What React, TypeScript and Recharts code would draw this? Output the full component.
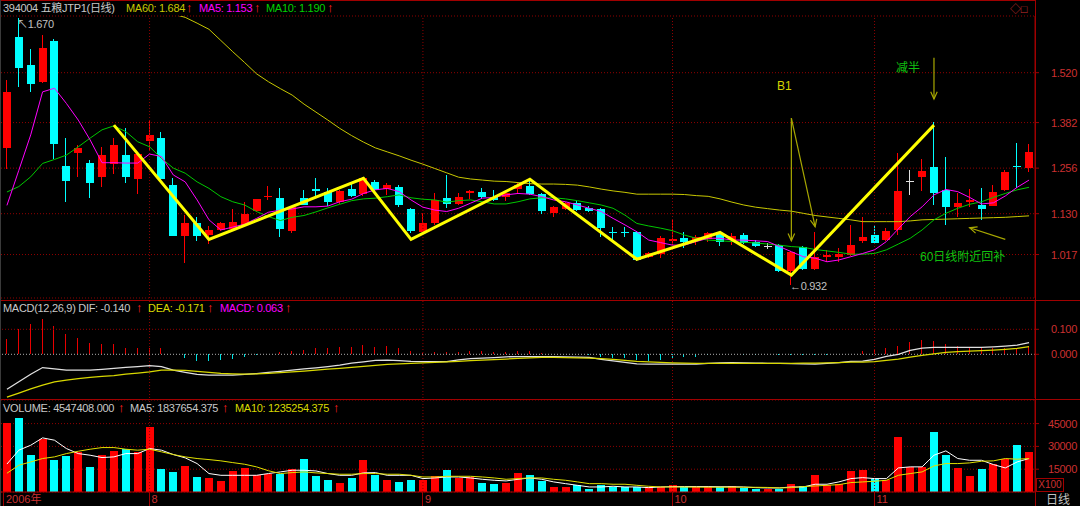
import React from "react";
import { Bar, CartesianGrid, ComposedChart, Line, ReferenceLine, XAxis, YAxis } from "recharts";

// daily candles, one row per trading day (Jul–Nov 2006)
const OPEN = [
  1.313, 1.62, 1.541, 1.493, 1.609, 1.262, 1.297, 1.269, 1.232, 1.267,
  1.292, 1.225, 1.331, 1.34, 1.209, 1.068, 1.103, 1.071, 1.085, 1.088,
  1.099, 1.137, 1.175, 1.173, 1.082, 1.174, 1.197, 1.191, 1.163, 1.198,
  1.184, 1.218, 1.198, 1.205, 1.142, 1.08, 1.103, 1.173, 1.156, 1.186,
  1.189, 1.175, 1.175, 1.198, 1.207, 1.184, 1.133, 1.143, 1.16, 1.147,
  1.142, 1.08, 1.08, 1.08, 1.011, 1.018, 1.055, 1.062, 1.057, 1.059,
  1.076, 1.057, 1.071, 1.053, 1.041, 1.043, 0.971, 1.039, 0.977, 1.011,
  1.011, 1.016, 1.054, 1.071, 1.057, 1.085, 1.221, 1.232, 1.258, 1.196,
  1.149, 1.163, 1.154, 1.152, 1.196, 1.262, 1.257,
];
const HIGH = [
  1.5, 1.67, 1.585, 1.624, 1.612, 1.34, 1.32, 1.278, 1.315, 1.339,
  1.368, 1.3, 1.389, 1.355, 1.228, 1.126, 1.122, 1.096, 1.108, 1.142,
  1.163, 1.172, 1.207, 1.202, 1.152, 1.196, 1.228, 1.2, 1.195, 1.211,
  1.232, 1.222, 1.214, 1.209, 1.145, 1.131, 1.188, 1.237, 1.186, 1.195,
  1.2, 1.196, 1.19, 1.214, 1.223, 1.187, 1.151, 1.163, 1.168, 1.15,
  1.146, 1.094, 1.092, 1.082, 1.023, 1.068, 1.114, 1.08, 1.071, 1.08,
  1.08, 1.076, 1.076, 1.056, 1.048, 1.045, 1.027, 1.041, 1.08, 1.03,
  1.034, 1.099, 1.122, 1.099, 1.09, 1.297, 1.251, 1.28, 1.384, 1.288,
  1.188, 1.197, 1.2, 1.209, 1.25, 1.325, 1.322,
];
const LOW = [
  1.254, 1.481, 1.467, 1.491, 1.281, 1.163, 1.232, 1.173, 1.205, 1.24,
  1.216, 1.184, 1.304, 1.222, 1.067, 0.994, 1.055, 1.045, 1.082, 1.086,
  1.097, 1.135, 1.168, 1.066, 1.077, 1.154, 1.177, 1.151, 1.157, 1.177,
  1.178, 1.194, 1.182, 1.149, 1.076, 1.078, 1.1, 1.145, 1.154, 1.17,
  1.172, 1.165, 1.166, 1.188, 1.182, 1.128, 1.122, 1.14, 1.138, 1.136,
  1.066, 1.057, 1.066, 1.0, 1.007, 1.007, 1.043, 1.034, 1.043, 1.052,
  1.04, 1.043, 1.045, 1.038, 1.031, 0.969, 0.932, 0.975, 0.974, 0.997,
  0.997, 1.013, 1.05, 1.046, 1.055, 1.071, 1.182, 1.193, 1.154, 1.099,
  1.122, 1.149, 1.113, 1.15, 1.193, 1.2, 1.246,
];
const CLOSE = [
  1.467, 1.532, 1.489, 1.587, 1.322, 1.22, 1.311, 1.216, 1.292, 1.32,
  1.231, 1.295, 1.348, 1.226, 1.069, 1.103, 1.068, 1.085, 1.103, 1.106,
  1.128, 1.17, 1.178, 1.087, 1.149, 1.155, 1.192, 1.163, 1.193, 1.18,
  1.228, 1.196, 1.209, 1.154, 1.082, 1.105, 1.168, 1.156, 1.177, 1.193,
  1.175, 1.168, 1.188, 1.209, 1.184, 1.137, 1.149, 1.159, 1.14, 1.138,
  1.091, 1.076, 1.077, 1.002, 1.02, 1.062, 1.059, 1.051, 1.066, 1.076,
  1.051, 1.068, 1.05, 1.041, 1.041, 0.971, 1.025, 0.977, 1.009, 1.016,
  1.018, 1.043, 1.065, 1.048, 1.083, 1.193, 1.221, 1.248, 1.186, 1.149,
  1.159, 1.168, 1.143, 1.191, 1.244, 1.258, 1.301,
];
const MA5 = [
  1.153, 1.25, 1.348, 1.467, 1.477, 1.435, 1.389, 1.334, 1.271, 1.271,
  1.27, 1.27, 1.295, 1.288, 1.237, 1.218, 1.168, 1.113, 1.085, 1.093,
  1.101, 1.117, 1.134, 1.14, 1.143, 1.149, 1.149, 1.151, 1.163, 1.17,
  1.186, 1.196, 1.2, 1.191, 1.168, 1.148, 1.14, 1.136, 1.145, 1.159,
  1.173, 1.175, 1.182, 1.186, 1.184, 1.177, 1.168, 1.163, 1.154, 1.145,
  1.136, 1.117, 1.099, 1.08, 1.057, 1.05, 1.043, 1.043, 1.053, 1.062,
  1.062, 1.057, 1.057, 1.055, 1.053, 1.039, 1.025, 1.011, 1.007, 0.997,
  1.002, 1.011, 1.02, 1.03, 1.053, 1.088, 1.122, 1.149, 1.182, 1.197,
  1.191, 1.175, 1.157, 1.16, 1.179, 1.203, 1.223,
];
const MA10 = [
  1.19, 1.205, 1.232, 1.269, 1.28, 1.292, 1.315, 1.339, 1.362, 1.373,
  1.357, 1.329, 1.315, 1.283, 1.256, 1.242, 1.218, 1.2, 1.177, 1.163,
  1.154, 1.136, 1.122, 1.111, 1.12, 1.125, 1.135, 1.146, 1.156, 1.166,
  1.171, 1.173, 1.177, 1.182, 1.174, 1.17, 1.168, 1.162, 1.166, 1.168,
  1.163, 1.157, 1.157, 1.163, 1.171, 1.174, 1.174, 1.171, 1.166, 1.16,
  1.154, 1.145, 1.126, 1.103, 1.096, 1.09, 1.083, 1.071, 1.062, 1.057,
  1.055, 1.053, 1.051, 1.049, 1.046, 1.043, 1.039, 1.037, 1.031, 1.027,
  1.023, 1.018, 1.018, 1.02, 1.03, 1.046, 1.062, 1.085, 1.113, 1.131,
  1.145, 1.156, 1.163, 1.175, 1.186, 1.196, 1.203,
];
const MA60 = [
  1.684, 1.686, 1.688, 1.69, 1.691, 1.691, 1.69, 1.689, 1.688, 1.687,
  1.686, 1.685, 1.684, 1.683, 1.682, 1.673, 1.657, 1.64, 1.609, 1.578,
  1.548, 1.517, 1.495, 1.476, 1.458, 1.433, 1.411, 1.389, 1.366, 1.346,
  1.328, 1.312, 1.301, 1.29, 1.278, 1.267, 1.255, 1.243, 1.231, 1.226,
  1.223, 1.22, 1.219, 1.216, 1.213, 1.212, 1.212, 1.211, 1.209, 1.204,
  1.198, 1.193, 1.189, 1.184, 1.184, 1.184, 1.184, 1.183, 1.18, 1.178,
  1.171, 1.162, 1.154, 1.148, 1.144, 1.14, 1.137, 1.131, 1.125, 1.121,
  1.117, 1.113, 1.108, 1.108, 1.108, 1.108, 1.11, 1.113, 1.114, 1.115,
  1.116, 1.117, 1.118, 1.119, 1.12, 1.122, 1.124,
];
// volume in lots of 100
const VOLUME = [
  45474, 49010, 24190, 35170, 20870, 23550, 26420, 16530, 24190, 26800,
  28590, 26420, 42440, 14930, 13210, 17170, 9890, 9250, 7080, 13660,
  15830, 10980, 11680, 11680, 14930, 22020, 10590, 7720, 5940, 9450,
  21320, 10980, 7720, 6640, 7720, 7720, 10590, 14300, 9250, 9890,
  6190, 5100, 5940, 12760, 10980, 7080, 3320, 3320, 4400, 1790,
  4400, 3320, 3320, 3320, 3320, 3320, 4850, 3320, 3320, 3320,
  3320, 3960, 2680, 1790, 2230, 2230, 5490, 3960, 10980, 4850,
  5100, 13660, 14300, 8810, 7720, 36310, 16530, 16530, 39570, 24190,
  15830, 10590, 14930, 18700, 21570, 30760, 26420,
];
const VOL_MA5 = [
  18377, 27510, 30760, 35610, 34080, 28590, 25270, 24190, 22660, 23100,
  25270, 25270, 28590, 27510, 24630, 22460, 18700, 12130, 10980, 10980,
  10980, 10980, 12130, 13210, 14300, 14300, 13850, 12130, 10980, 10980,
  12570, 12760, 10980, 10980, 10980, 8810, 9250, 9890, 9890, 9250,
  8360, 7720, 7280, 8360, 9250, 8360, 6640, 5490, 4400, 3320,
  3320, 3770, 3320, 3320, 2870, 3320, 3500, 3560, 3560, 3560,
  3450, 3500, 3300, 2870, 2680, 2680, 3320, 3320, 5100, 5100,
  6640, 8810, 9450, 8810, 8810, 15830, 16530, 16530, 24190, 27060,
  22020, 20870, 20870, 18060, 15830, 19780, 22020,
];
const VOL_MA10 = [
  12353, 17610, 19780, 22020, 23100, 25270, 26800, 28140, 29230, 29230,
  28140, 27510, 28140, 26420, 24630, 23100, 22020, 21320, 20490, 19340,
  18250, 16530, 14000, 12130, 12760, 13210, 12570, 12130, 11680, 11680,
  12130, 12130, 11680, 11680, 10980, 9890, 9890, 10340, 10340, 10340,
  9890, 9250, 8360, 8810, 9250, 9250, 8360, 7720, 6640, 5490,
  5490, 5100, 5100, 4400, 3770, 3320, 3320, 3250, 3200, 3150,
  3150, 3150, 3150, 3100, 3000, 2680, 2870, 3540, 3960, 4400,
  4850, 6190, 6640, 7080, 7720, 10980, 12130, 13210, 17170, 18700,
  18700, 19150, 20230, 20490, 22020, 21570, 22020,
];
const DIF = [
  -0.14, -0.11, -0.08, -0.053, -0.058, -0.063, -0.063, -0.063, -0.06, -0.056,
  -0.052, -0.049, -0.045, -0.049, -0.063, -0.072, -0.08, -0.083, -0.083, -0.083,
  -0.08, -0.077, -0.072, -0.068, -0.063, -0.058, -0.054, -0.049, -0.043, -0.035,
  -0.03, -0.024, -0.023, -0.025, -0.028, -0.029, -0.029, -0.029, -0.022, -0.017,
  -0.015, -0.013, -0.01, -0.009, -0.009, -0.009, -0.009, -0.01, -0.011, -0.012,
  -0.02, -0.026, -0.032, -0.038, -0.039, -0.039, -0.039, -0.039, -0.039, -0.036,
  -0.034, -0.033, -0.034, -0.035, -0.036, -0.036, -0.037, -0.038, -0.039, -0.036,
  -0.033, -0.028, -0.027, -0.02, -0.008, 0.0, 0.016, 0.025, 0.028, 0.028,
  0.028, 0.028, 0.028, 0.03, 0.033, 0.037, 0.047,
];
const DEA = [
  -0.171, -0.155, -0.138, -0.123, -0.11, -0.103, -0.097, -0.092, -0.088, -0.085,
  -0.079, -0.075, -0.07, -0.063, -0.063, -0.064, -0.068, -0.072, -0.076, -0.078,
  -0.079, -0.078, -0.076, -0.073, -0.07, -0.067, -0.063, -0.059, -0.056, -0.052,
  -0.048, -0.044, -0.04, -0.038, -0.036, -0.034, -0.032, -0.03, -0.028, -0.025,
  -0.023, -0.021, -0.019, -0.016, -0.014, -0.012, -0.012, -0.013, -0.014, -0.015,
  -0.017, -0.02, -0.024, -0.028, -0.03, -0.032, -0.034, -0.035, -0.036, -0.036,
  -0.036, -0.036, -0.036, -0.036, -0.036, -0.036, -0.036, -0.035, -0.035, -0.034,
  -0.033, -0.031, -0.031, -0.029, -0.024, -0.019, -0.011, -0.004, 0.002, 0.008,
  0.011, 0.013, 0.015, 0.017, 0.02, 0.024, 0.031,
];
const MACD = [
  0.063, 0.1, 0.12, 0.141, 0.114, 0.08, 0.067, 0.044, 0.04, 0.04,
  0.027, 0.027, 0.024, 0.024, 0.001, -0.016, -0.025, -0.025, -0.023, -0.019,
  -0.009, -0.002, 0.001, 0.008, 0.013, 0.017, 0.024, 0.027, 0.031, 0.031,
  0.037, 0.031, 0.033, 0.024, 0.013, 0.004, 0.008, 0.008, 0.011, 0.013,
  0.013, 0.011, 0.011, 0.013, 0.013, 0.006, 0.003, 0.002, 0.001, -0.003,
  -0.009, -0.013, -0.016, -0.022, -0.026, -0.022, -0.016, -0.012, -0.009, -0.002,
  0.002, 0.001, -0.002, -0.001, 0.001, -0.003, -0.002, -0.003, -0.003, -0.003,
  0.001, 0.002, 0.013, 0.017, 0.024, 0.035, 0.048, 0.057, 0.053, 0.04,
  0.035, 0.031, 0.024, 0.024, 0.024, 0.027, 0.031,
];

// hand-drawn wave line: [day index, price]
const ZIGZAG = [
  [9, 1.375], [17, 1.059], [30, 1.228], [34, 1.059], [44, 1.225],
  [53, 1.004], [60, 1.078], [66, 0.96], [78, 1.375],
];
// annotation arrows: [fromDay, fromPrice, toDay, toPrice]
const ARROWS = [
  [66, 1.394, 66, 1.055],
  [66, 1.394, 68, 1.094],
  [78, 1.561, 78, 1.447],
  [84, 1.059, 81, 1.091],
];

const PRICE_TICKS = [1.017, 1.13, 1.256, 1.382, 1.52];
const MACD_TICKS = [0, 0.1];
const VOL_TICKS = [15000, 30000, 45000];
const MONTH_STARTS = [0, 12, 35, 56, 73];
const MONTH_LABELS = ["2006年", "8", "9", "10", "11"];

const UP = "#ff0000";
const DOWN = "#00ffff";
const FLAT = "#e0e0e0";
const AXIS = "#a00000";
const GRID = "#900000";
const LABEL = "#cc3030";
const ARROW = "#a8a800";
const FONT = "'Liberation Sans', Arial, 'Noto Sans CJK SC', sans-serif";
const BAR = 7.885;

const zz = new Map(ZIGZAG.map(([i, v]) => [i, v]));
const rows = CLOSE.map((close, i) => ({
  i,
  open: OPEN[i],
  high: HIGH[i],
  low: LOW[i],
  close,
  ma5: MA5[i],
  ma10: MA10[i],
  ma60: MA60[i],
  zz: zz.has(i) ? zz.get(i) : null,
  vol: VOLUME[i],
  vma5: VOL_MA5[i],
  vma10: VOL_MA10[i],
  dif: DIF[i],
  dea: DEA[i],
  macd: MACD[i],
}));

function colorOf(d: any) {
  if (d.close > d.open) return UP;
  if (d.close < d.open) return DOWN;
  return FLAT;
}

function renderCandle(props: any) {
  const { x, y, width, height, payload } = props;
  if (!payload || !Number.isFinite(y) || !Number.isFinite(height)) return <g />;
  const top = Math.min(y, y + height);
  const span = Math.abs(height);
  const perUnit = span / (payload.high - payload.low);
  const at = (v: number) => top + (payload.high - v) * perUnit;
  const left = Math.round(x + width / 2 - 4);
  const color = colorOf(payload);
  const bTop = Math.round(at(Math.max(payload.open, payload.close)));
  const bBot = Math.round(at(Math.min(payload.open, payload.close)));
  return (
    <g shapeRendering="crispEdges">
      <line x1={left + 3.5} x2={left + 3.5} y1={top} y2={top + span} stroke={color} />
      <rect x={left} y={bTop} width={8} height={Math.max(1, bBot - bTop)} fill={color} />
    </g>
  );
}

function renderVolume(props: any) {
  const { x, y, width, height, payload } = props;
  if (!payload || !Number.isFinite(y)) return <g />;
  const top = Math.round(Math.min(y, y + height));
  const bottom = Math.round(Math.max(y, y + height));
  const left = Math.round(x + width / 2 - 4);
  const color = payload.close >= payload.open ? UP : DOWN;
  return <rect x={left} y={top} width={8} height={Math.max(1, bottom - top)} fill={color} shapeRendering="crispEdges" />;
}

function renderMacd(props: any) {
  const { x, y, width, height, payload } = props;
  if (!payload || !Number.isFinite(y)) return <g />;
  const cx = Math.round(x + width / 2 - 4) + 3.5;
  return (
    <line
      x1={cx}
      x2={cx}
      y1={Math.min(y, y + height)}
      y2={Math.max(y, y + height)}
      stroke={payload.macd >= 0 ? "#e80000" : "#00e0e0"}
      shapeRendering="crispEdges"
    />
  );
}

function renderArrow(props: any) {
  const { x1, y1, x2, y2 } = props;
  const a = Math.atan2(y2 - y1, x2 - x1);
  const len = 8;
  const s = 0.42;
  const p1 = `${x2 - len * Math.cos(a - s)},${y2 - len * Math.sin(a - s)}`;
  const p2 = `${x2 - len * Math.cos(a + s)},${y2 - len * Math.sin(a + s)}`;
  return (
    <g stroke={ARROW} strokeWidth={1.2} fill="none">
      <line x1={x1} y1={y1} x2={x2} y2={y2} />
      <polyline points={`${p1} ${x2},${y2} ${p2}`} />
    </g>
  );
}

function AxisTick(props: any) {
  const { x, y, payload, digits } = props;
  return (
    <text x={x + 36} y={y + 4} textAnchor="end" fill={LABEL} fontSize={11} letterSpacing={-0.3} fontFamily={FONT}>
      {Number(payload.value).toFixed(digits)}
    </text>
  );
}

function MonthTick(props: any) {
  const { x, y, payload } = props;
  const idx = MONTH_STARTS.indexOf(payload.value);
  const first = idx === 0;
  const lx = Math.round(first ? x - 4 : x - 1) + 0.5;
  return (
    <g>
      <line x1={lx} x2={lx} y1={y} y2={y + 14} stroke={AXIS} />
      <text x={first ? x - 1 : x + 2} y={y + 11} fill={LABEL} fontSize={11} fontFamily={FONT}>
        {MONTH_LABELS[idx]}
      </text>
    </g>
  );
}

function Txt({ x, y, color, children, size = 11, spacing = -0.3 }: any) {
  return (
    <div
      style={{
        position: "absolute",
        left: x,
        top: y,
        color,
        fontSize: size,
        lineHeight: `${size + 1}px`,
        letterSpacing: spacing,
        whiteSpace: "nowrap",
        fontFamily: FONT,
      }}
    >
      {children}
    </div>
  );
}

// small red "up" mark that follows each reading in the panel titles
function Up({ x, y }: any) {
  return (
    <Txt x={x} y={y - 1} color="#ff2020" size={13} spacing={0}>
      ↑
    </Txt>
  );
}

const monthLines = MONTH_STARTS.slice(1).map((m) => (
  <ReferenceLine key={`m${m}`} x={m} stroke={GRID} strokeDasharray="1 2" />
));

export default function App() {
  return (
    <div
      style={{
        position: "absolute",
        left: 0,
        top: 0,
        width: 1080,
        height: 506,
        background: "#000",
        overflow: "hidden",
      }}
    >
      <div style={{ position: "absolute", left: 0, top: 0 }}>
        <ComposedChart width={1080} height={300} data={rows} margin={{ top: 16, right: 0, bottom: 2, left: 1 }}>
          <CartesianGrid vertical={false} stroke={GRID} strokeDasharray="1 2" />
          <XAxis dataKey="i" type="category" hide />
          <YAxis
            orientation="right"
            width={45}
            domain={[0.8968, 1.6768]}
            allowDataOverflow
            ticks={PRICE_TICKS}
            interval={0}
            tick={<AxisTick digits={3} />}
            tickSize={4}
            tickLine={{ stroke: AXIS }}
            axisLine={{ stroke: AXIS }}
          />
          {monthLines}
          <Bar dataKey={(d: any) => [d.low, d.high]} barSize={BAR} shape={renderCandle} isAnimationActive={false} />
          <Line type="linear" dataKey="ma60" stroke="#c8c800" strokeWidth={1} dot={false} activeDot={false} isAnimationActive={false} />
          <Line type="linear" dataKey="ma10" stroke="#00c800" strokeWidth={1} dot={false} activeDot={false} isAnimationActive={false} />
          <Line type="linear" dataKey="ma5" stroke="#ff00ff" strokeWidth={1} dot={false} activeDot={false} isAnimationActive={false} />
          <Line type="linear" dataKey="zz" connectNulls stroke="#ffff00" strokeWidth={3} dot={false} activeDot={false} isAnimationActive={false} />
          {ARROWS.map(([a, b, c, d], k) => (
            <ReferenceLine key={`a${k}`} segment={[{ x: a, y: b }, { x: c, y: d }]} shape={renderArrow} />
          ))}
        </ComposedChart>
      </div>

      <div style={{ position: "absolute", left: 0, top: 300 }}>
        <ComposedChart width={1080} height={99} data={rows} margin={{ top: 1, right: 0, bottom: 1, left: 1 }}>
          <XAxis dataKey="i" type="category" hide />
          <YAxis
            orientation="right"
            width={45}
            domain={[-0.1748, 0.2132]}
            allowDataOverflow
            ticks={MACD_TICKS}
            interval={0}
            tick={<AxisTick digits={3} />}
            tickSize={4}
            tickLine={{ stroke: AXIS }}
            axisLine={{ stroke: AXIS }}
          />
          <ReferenceLine y={0.1} stroke={GRID} strokeDasharray="1 2" />
          <ReferenceLine y={0} stroke="#b0b0b0" strokeDasharray="1 2" />
          {monthLines}
          <Bar dataKey="macd" barSize={BAR} shape={renderMacd} isAnimationActive={false} />
          <Line type="linear" dataKey="dif" stroke="#e0e0e0" strokeWidth={1.3} dot={false} activeDot={false} isAnimationActive={false} />
          <Line type="linear" dataKey="dea" stroke="#d8d800" strokeWidth={1.3} dot={false} activeDot={false} isAnimationActive={false} />
        </ComposedChart>
      </div>

      <div style={{ position: "absolute", left: 0, top: 399 }}>
        <ComposedChart width={1080} height={107} data={rows} margin={{ top: 1, right: 0, bottom: 0, left: 1 }}>
          <CartesianGrid vertical={false} stroke={GRID} strokeDasharray="1 2" />
          <XAxis
            dataKey="i"
            type="category"
            height={14}
            ticks={MONTH_STARTS}
            interval={0}
            tick={<MonthTick />}
            tickSize={0}
            tickMargin={0}
            tickLine={false}
            axisLine={{ stroke: AXIS }}
          />
          <YAxis
            orientation="right"
            width={45}
            domain={[0, 60526]}
            allowDataOverflow
            ticks={VOL_TICKS}
            interval={0}
            tick={<AxisTick digits={0} />}
            tickSize={4}
            tickLine={{ stroke: AXIS }}
            axisLine={{ stroke: AXIS }}
          />
          {monthLines}
          <Bar dataKey="vol" barSize={BAR} shape={renderVolume} isAnimationActive={false} />
          <Line type="linear" dataKey="vma5" stroke="#ffffff" strokeWidth={1} dot={false} activeDot={false} isAnimationActive={false} />
          <Line type="linear" dataKey="vma10" stroke="#e0e000" strokeWidth={1} dot={false} activeDot={false} isAnimationActive={false} />
        </ComposedChart>
      </div>

      {/* frame lines */}
      <div style={{ position: "absolute", left: 0, top: 0, width: 1035, height: 1, background: AXIS }} />
      <div style={{ position: "absolute", left: 0, top: 300, width: 1080, height: 1, background: AXIS }} />
      <div style={{ position: "absolute", left: 0, top: 399, width: 1080, height: 1, background: AXIS }} />
      <div style={{ position: "absolute", left: 1035, top: 0, width: 1, height: 506, background: AXIS }} />
      <div style={{ position: "absolute", left: 0, top: 0, width: 1, height: 506, background: "#3a3a3a" }} />

      {/* panel titles */}
      <Txt x={3} y={2} color="#c8c8c8">394004 五粮JTP1(日线)</Txt>
      <Txt x={126} y={2} color="#c8c800">MA60: 1.684</Txt>
      <Up x={186} y={2} />
      <Txt x={199} y={2} color="#ff00ff">MA5: 1.153</Txt>
      <Up x={254} y={2} />
      <Txt x={266} y={2} color="#00d000">MA10: 1.190</Txt>
      <Up x={327} y={2} />
      <Txt x={1010} y={3} color={LABEL}>◇□</Txt>

      <Txt x={3} y={302} color="#c8c8c8">MACD(12,26,9) DIF: -0.140</Txt>
      <Up x={136} y={302} />
      <Txt x={148} y={302} color="#d8d800">DEA: -0.171</Txt>
      <Up x={207} y={302} />
      <Txt x={220} y={302} color="#ff00ff">MACD: 0.063</Txt>
      <Up x={285} y={302} />

      <Txt x={3} y={402} color="#c8c8c8">VOLUME: 4547408.000</Txt>
      <Up x={118} y={402} />
      <Txt x={130} y={402} color="#c8c8c8">MA5: 1837654.375</Txt>
      <Up x={222} y={402} />
      <Txt x={235} y={402} color="#d8d800">MA10: 1235254.375</Txt>
      <Up x={333} y={402} />

      {/* price marks and notes */}
      <Txt x={17} y={18} color="#c0c0c0">↖1.670</Txt>
      <Txt x={790} y={280} color="#c0c0c0">←0.932</Txt>
      <Txt x={777} y={80} color="#d4d400" size={12} spacing={0}>B1</Txt>
      <Txt x={896} y={62} color="#10c010" size={12} spacing={0}>减半</Txt>
      <Txt x={920} y={251} color="#10c010" size={12} spacing={0}>60日线附近回补</Txt>

      <div
        style={{
          position: "absolute",
          left: 1036,
          top: 478,
          width: 26,
          height: 12,
          border: `1px solid ${AXIS}`,
          color: LABEL,
          fontSize: 10,
          lineHeight: "12px",
          fontFamily: FONT,
          textAlign: "center",
        }}
      >
        X100
      </div>
      <Txt x={1046} y={494} color="#c0c0c0" size={12} spacing={0}>日线</Txt>
    </div>
  );
}
